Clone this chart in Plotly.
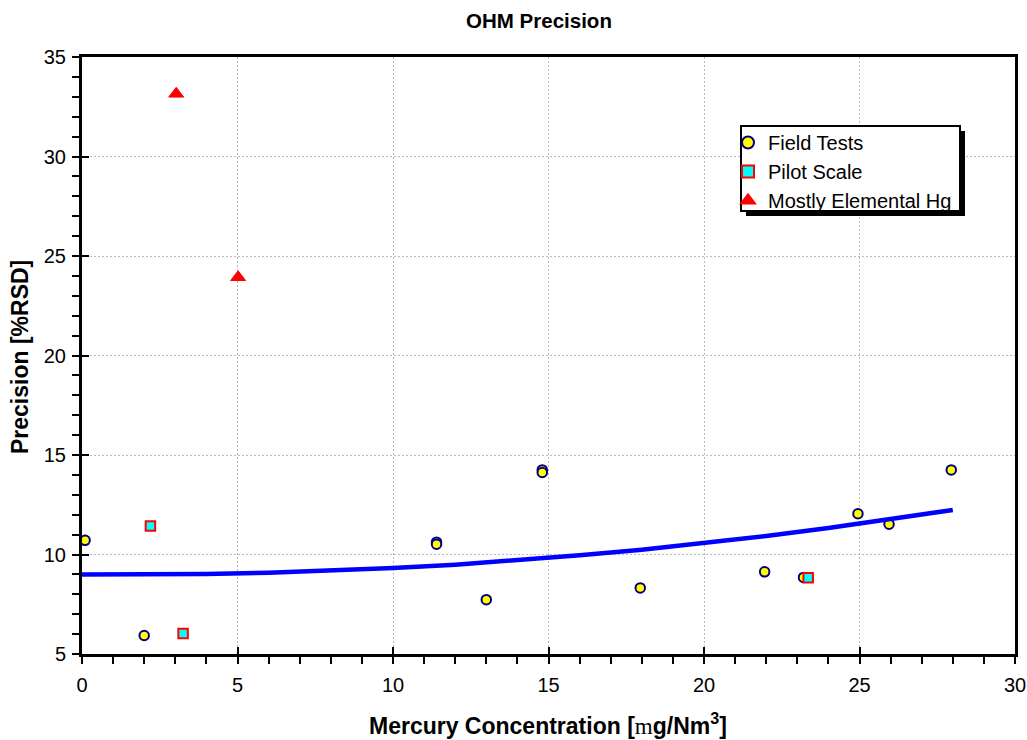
import plotly.graph_objects as go

# ---- data ----
field_x = [0.1, 2.0, 11.4, 11.4, 13.0, 14.8, 14.8, 17.95, 21.95, 23.2, 24.95, 25.95, 27.95]
field_y = [10.71, 5.93, 10.62, 10.52, 7.73, 14.25, 14.12, 8.32, 9.13, 8.85, 12.05, 11.52, 14.25]

pilot_x = [2.2, 3.25, 23.35]
pilot_y = [11.43, 6.03, 8.83]

elem_x = [3.03, 5.02]
elem_y = [33.15, 23.93]

fit_x = [0, 2, 4, 6, 8, 10, 12, 14, 16, 18, 20, 22, 24, 26, 28]
fit_y = [9.00, 8.99, 9.02, 9.08, 9.18, 9.32, 9.49, 9.71, 9.96, 10.24, 10.57, 10.93, 11.33, 11.77, 12.24]

x_ticks = [0, 5, 10, 15, 20, 25, 30]
y_ticks = [5, 10, 15, 20, 25, 30, 35]

# ---- layout geometry (pixels) ----
W, H = 1027, 740
L, R, T, B = 82, 12, 57, 86
PW, PH = W - L - R, H - T - B


def px(xp):
    return (xp - L) / PW


def py(yp):
    return 1 - (yp - T) / PH


FONT = "Liberation Sans, Arial, sans-serif"

fig = go.Figure()

fig.add_trace(go.Scatter(
    x=field_x, y=field_y, mode="markers", name="Field Tests",
    marker=dict(symbol="circle", size=9.5, color="#FFFF00",
                line=dict(color="#000080", width=2)),
))
fig.add_trace(go.Scatter(
    x=pilot_x, y=pilot_y, mode="markers", name="Pilot Scale",
    marker=dict(symbol="square", size=9.5, color="#00FFFF",
                line=dict(color="#FF0000", width=2)),
))
fig.add_trace(go.Scatter(
    x=elem_x, y=elem_y, mode="markers", name="Mostly Elemental Hg",
    marker=dict(symbol="triangle-up", size=13, color="#FF0000",
                line=dict(color="#FF0000", width=1)),
))
fig.add_trace(go.Scatter(
    x=fit_x, y=fit_y, mode="lines", showlegend=False, hoverinfo="skip",
    line=dict(color="#0000FF", width=4.5),
))
# invisible trace to activate the secondary (inward tick) axes
fig.add_trace(go.Scatter(
    x=[None], y=[None], xaxis="x2", yaxis="y2", showlegend=False, hoverinfo="skip",
))

axis_common = dict(
    showline=True, linecolor="black", linewidth=3, mirror=True,
    ticks="outside", ticklen=7, tickwidth=2, tickcolor="black",
    showgrid=True, gridcolor="#b8b8b8", gridwidth=1, griddash="2px,2px",
    zeroline=False,
    tickfont=dict(family=FONT, size=20, color="black"),
)

fig.update_layout(
    width=W, height=H,
    margin=dict(l=L, r=R, t=T, b=B, autoexpand=False),
    paper_bgcolor="white", plot_bgcolor="white",
    font=dict(family=FONT, color="black"),
    title=dict(
        text="<b>OHM Precision</b>",
        font=dict(family=FONT, size=20.5, color="black"),
        x=px(539), xref="paper", xanchor="center",
        y=1 - 21 / H, yref="container", yanchor="middle",
    ),
    xaxis=dict(
        range=[0, 30], tickvals=x_ticks, ticktext=[str(v) for v in x_ticks],
        minor=dict(dtick=1, ticks="outside", ticklen=7, tickwidth=2,
                   tickcolor="black", showgrid=False),
        ticklabelstandoff=4,
        **axis_common,
    ),
    yaxis=dict(
        range=[5, 35], tickvals=y_ticks, ticktext=[str(v) for v in y_ticks],
        minor=dict(dtick=1, ticks="outside", ticklen=7, tickwidth=2,
                   tickcolor="black", showgrid=False),
        ticklabelstandoff=2,
        **axis_common,
    ),
    xaxis2=dict(
        overlaying="x", matches="x", range=[0, 30], tickvals=x_ticks,
        ticks="inside", ticklen=7, tickwidth=2, tickcolor="black",
        showticklabels=False, showgrid=False, showline=False, zeroline=False,
        side="bottom",
    ),
    yaxis2=dict(
        overlaying="y", matches="y", range=[5, 35], tickvals=y_ticks,
        ticks="inside", ticklen=7, tickwidth=2, tickcolor="black",
        showticklabels=False, showgrid=False, showline=False, zeroline=False,
        side="left",
    ),
    legend=dict(
        x=px(728), y=py(123), xanchor="left", yanchor="top",
        bgcolor="rgba(0,0,0,0)", borderwidth=0,
        font=dict(family=FONT, size=20, color="black"),
        tracegroupgap=0, itemsizing="constant",
    ),
    showlegend=True,
)

# legend box with drop shadow
fig.add_shape(type="rect", xref="paper", yref="paper", layer="above",
              x0=px(746), x1=px(965), y0=py(216), y1=py(131),
              fillcolor="black", line=dict(width=0))
fig.add_shape(type="rect", xref="paper", yref="paper", layer="above",
              x0=px(741), x1=px(960), y0=py(211), y1=py(126),
              fillcolor="white", line=dict(color="black", width=2))

# axis titles
fig.add_annotation(
    text="<b>Mercury Concentration [</b><span style=\"font-family:'Liberation Serif';font-weight:normal\">m</span><b>g/Nm<sup>3</sup>]</b>",
    xref="paper", yref="paper", x=px(548), y=py(724),
    xanchor="center", yanchor="middle", showarrow=False,
    font=dict(family=FONT, size=23, color="black"),
)
fig.add_annotation(
    text="<b>Precision [%RSD]</b>",
    xref="paper", yref="paper", x=px(20), y=py(357),
    xanchor="center", yanchor="middle", showarrow=False, textangle=-90,
    font=dict(family=FONT, size=23, color="black"),
)

fig.write_html("out.html")
